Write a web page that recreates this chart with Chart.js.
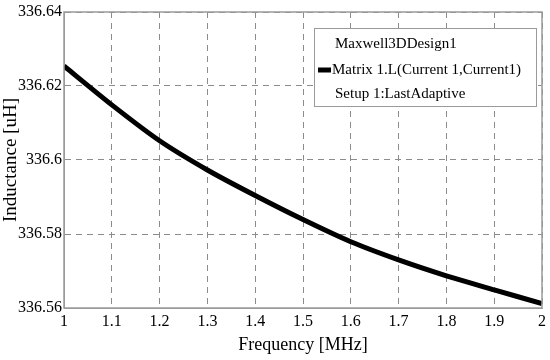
<!DOCTYPE html>
<html lang="en">
<head>
    <meta charset="UTF-8">
    <title>Inductance vs Frequency</title>
    <script src="https://cdn.jsdelivr.net/npm/chart.js"></script>
    <style>
        html, body { margin: 0; padding: 0; background: #fff; }
        #wrap { width: 550px; height: 360px; }
    </style>
</head>
<body>
    <div id="wrap"><canvas id="inductanceChart"></canvas></div>
    <script>
        // values
        const frequency = [1.0, 1.1, 1.2, 1.3, 1.4, 1.5, 1.6, 1.7, 1.8, 1.9, 2.0];
        const inductance = [336.6254, 336.6149, 336.6052, 336.5973, 336.5904, 336.5839,
                            336.5779, 336.5730, 336.5687, 336.5649, 336.5612];
        const xTicks = [1, 1.1, 1.2, 1.3, 1.4, 1.5, 1.6, 1.7, 1.8, 1.9, 2];
        const yTicks = [336.56, 336.58, 336.6, 336.62, 336.64];
        const legendLines = ['Maxwell3DDesign1', 'Matrix 1.L(Current 1,Current1)', 'Setup 1:LastAdaptive'];

        const serif = '"Liberation Serif", "DejaVu Serif", serif';
        const frameColor = '#9a9a9a';
        const gridColor = '#8c8c8c';

        // frame round the plot + legend box in the upper right
        const framePlugin = {
            id: 'frameAndLegend',
            afterDraw(chart) {
                const { ctx, chartArea: a } = chart;
                ctx.save();
                ctx.strokeStyle = frameColor;
                ctx.lineWidth = 1.5;
                ctx.setLineDash([]);
                ctx.strokeRect(a.left, a.top, a.right - a.left, a.bottom - a.top);

                const bx = a.right - 228, by = a.top + 16, bw = 222, bh = 78;
                ctx.fillStyle = '#fff';
                ctx.fillRect(bx, by, bw, bh);
                ctx.lineWidth = 1;
                ctx.strokeRect(bx + 0.5, by + 0.5, bw, bh);

                ctx.font = '15px ' + serif;
                ctx.fillStyle = '#000';
                ctx.textBaseline = 'middle';
                ctx.fillText(legendLines[0], bx + 21, by + 16);
                ctx.fillText(legendLines[1], bx + 18, by + 42);
                ctx.fillText(legendLines[2], bx + 21, by + 66);

                const ds = chart.data.datasets[0];
                ctx.strokeStyle = ds.borderColor;
                ctx.lineWidth = ds.borderWidth;
                ctx.beginPath();
                ctx.moveTo(bx + 4, by + 42);
                ctx.lineTo(bx + 17, by + 42);
                ctx.stroke();
                ctx.restore();
            }
        };

        const ctx = document.getElementById('inductanceChart').getContext('2d');
        new Chart(ctx, {
            type: 'line',
            data: {
                datasets: [{
                    label: legendLines[1],
                    data: frequency.map((f, i) => ({ x: f, y: inductance[i] })),
                    borderColor: '#000',
                    borderWidth: 5,
                    pointRadius: 0,
                    tension: 0.2,
                    fill: false
                }]
            },
            options: {
                responsive: true,
                maintainAspectRatio: false,
                animation: false,
                layout: { padding: { left: 0, right: 7, top: 12, bottom: 0 } },
                plugins: {
                    legend: { display: false },
                    tooltip: { enabled: false }
                },
                scales: {
                    x: {
                        type: 'linear',
                        min: 1,
                        max: 2,
                        afterBuildTicks: scale => { scale.ticks = xTicks.map(v => ({ value: v })); },
                        afterFit: scale => { scale.height = 52; },
                        ticks: {
                            color: '#000',
                            font: { family: serif, size: 16 },
                            padding: 4,
                            maxRotation: 0,
                            callback: v => String(Number(v.toFixed(1)))
                        },
                        grid: { color: gridColor, lineWidth: 1, drawTicks: false, borderDash: [6, 5] },
                        border: { display: true, color: frameColor, dash: [6, 5] },
                        title: {
                            display: true,
                            text: 'Frequency [MHz]',
                            color: '#000',
                            font: { family: serif, size: 18 },
                            padding: { top: 0 }
                        }
                    },
                    y: {
                        min: 336.56,
                        max: 336.64,
                        afterBuildTicks: scale => { scale.ticks = yTicks.map(v => ({ value: v })); },
                        afterFit: scale => { scale.width = 64; },
                        ticks: {
                            color: '#000',
                            font: { family: serif, size: 16 },
                            padding: 2,
                            callback: v => String(Number(v.toFixed(2)))
                        },
                        grid: { color: gridColor, lineWidth: 1, drawTicks: false, borderDash: [6, 5] },
                        border: { display: true, color: frameColor, dash: [6, 5] },
                        title: {
                            display: true,
                            text: 'Inductance [uH]',
                            color: '#000',
                            font: { family: serif, size: 19 },
                            padding: { top: 0, bottom: 0 }
                        }
                    }
                }
            },
            plugins: [framePlugin]
        });
    </script>
</body>
</html>
